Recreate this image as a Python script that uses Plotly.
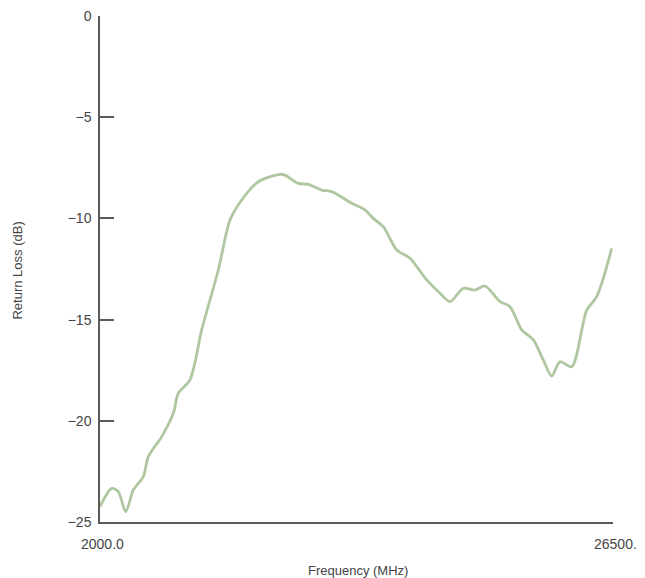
import plotly.graph_objects as go

freq_mhz = [2000, 2559, 2874, 3227, 3590, 4068, 4307, 4947, 5501, 5740, 6298, 6857,
            7650, 8209, 8768, 9560, 10597, 10836, 11471, 11949, 12588, 13066, 14021,
            14656, 15053, 15530, 16170, 16806, 17603, 18238, 18716, 19351, 19910,
            20388, 21104, 21582, 22141, 22695, 23173, 23573, 23970, 24529, 25245,
            25722, 26439]
return_loss_db = [-24.24, -23.34, -23.5, -24.49, -23.42, -22.76, -21.77, -20.78, -19.63,
                  -18.64, -17.98, -15.51, -12.55, -10.08, -9.09, -8.19, -7.82, -7.86,
                  -8.27, -8.32, -8.6, -8.68, -9.25, -9.58, -10.0, -10.41, -11.56, -11.97,
                  -13.04, -13.7, -14.11, -13.45, -13.54, -13.34, -14.11, -14.36, -15.51,
                  -16.0, -17.0, -17.79, -17.08, -17.33, -14.53, -13.87, -11.48]

x_tick_vals = [2000, 26500]
x_tick_text = ["2000.0", "26500."]
y_tick_vals = [0, -5, -10, -15, -20, -25]
y_tick_text = ["0", "\u22125", "\u221210", "\u221215", "\u221220", "\u221225"]

axis_color = "#5a5a5a"
text_color = "#444444"
font_family = "Liberation Sans, Arial, sans-serif"

fig = go.Figure()
fig.add_trace(go.Scatter(
    x=freq_mhz, y=return_loss_db, mode="lines",
    line=dict(color="#afc7a0", width=2.8, shape="spline", smoothing=0.8),
    hoverinfo="skip", showlegend=False,
))

# x tick labels drawn as annotations so they sit below the y label "-25"
for v, t in zip(x_tick_vals, x_tick_text):
    fig.add_annotation(x=v, y=0, xref="x", yref="paper", text=t, showarrow=False,
                       yanchor="top", yshift=-12, xshift=2,
                       font=dict(size=14, color=text_color))

fig.add_annotation(x=0.503, y=0, xref="paper", yref="paper", text="Frequency (MHz)",
                   showarrow=False, yanchor="middle", yshift=-48,
                   font=dict(size=13, color=text_color))
fig.add_annotation(x=0, y=0.497, xref="paper", yref="paper", text="Return Loss (dB)",
                   showarrow=False, textangle=-90, xanchor="center", xshift=-82,
                   font=dict(size=13, color=text_color))

fig.update_layout(
    width=645, height=578,
    margin=dict(l=100, r=32, t=16, b=56, autoexpand=False),
    paper_bgcolor="white", plot_bgcolor="white",
    font=dict(family=font_family, color=text_color, size=14),
    xaxis=dict(
        range=[2000, 26500], tickvals=x_tick_vals, ticktext=["", ""],
        ticks="inside", ticklen=12, tickwidth=1.5, tickcolor=axis_color,
        showline=True, linecolor=axis_color, linewidth=1.5,
        showgrid=False, zeroline=False, automargin=False,
    ),
    yaxis=dict(
        range=[-25, 0], tickvals=y_tick_vals, ticktext=y_tick_text,
        ticks="inside", ticklen=14, tickwidth=1.5, tickcolor=axis_color,
        showline=True, linecolor=axis_color, linewidth=1.5,
        showgrid=False, zeroline=False, automargin=False,
        ticklabelstandoff=4,
        tickfont=dict(size=14, color=text_color),
    ),
)

fig.write_html("out.html", config={"displayModeBar": False},
               post_script="document.body.style.margin='0';document.body.style.overflow='hidden';")
